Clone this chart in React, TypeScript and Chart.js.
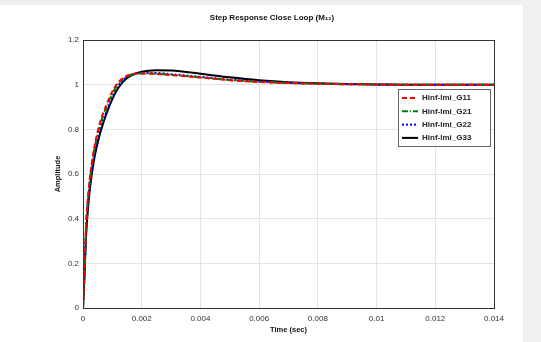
import React, { useEffect, useRef } from "react";
import { Chart, registerables } from "chart.js";

Chart.register(...registerables);

const timeValues = [0, 0.00005, 0.0001, 0.0002, 0.0003, 0.0004, 0.0005, 0.0006, 0.0008, 0.001, 0.0012, 0.0015, 0.002, 0.0025, 0.003, 0.004, 0.005, 0.006, 0.007, 0.008, 0.009, 0.01, 0.011, 0.012, 0.013, 0.014];
const g11Values = [0, 0.17, 0.36, 0.54, 0.65, 0.73, 0.79, 0.84, 0.91, 0.97, 1.01, 1.04, 1.05, 1.048, 1.043, 1.032, 1.02, 1.012, 1.007, 1.004, 1.002, 1.001, 1.0, 1.0, 1.0, 1.0];
const g21Values = [0, 0.16, 0.35, 0.53, 0.64, 0.72, 0.78, 0.83, 0.9, 0.96, 1.005, 1.037, 1.05, 1.049, 1.044, 1.033, 1.021, 1.013, 1.008, 1.004, 1.002, 1.001, 1.0, 1.0, 1.0, 1.0];
const g22Values = [0, 0.15, 0.33, 0.51, 0.62, 0.7, 0.76, 0.81, 0.88, 0.945, 0.995, 1.035, 1.052, 1.052, 1.047, 1.035, 1.023, 1.014, 1.008, 1.004, 1.002, 1.001, 1.0, 1.0, 1.0, 1.0];
const g33Values = [0, 0.14, 0.31, 0.49, 0.6, 0.68, 0.74, 0.79, 0.87, 0.935, 0.985, 1.03, 1.058, 1.065, 1.063, 1.049, 1.033, 1.02, 1.011, 1.006, 1.003, 1.001, 1.0, 1.0, 1.0, 1.0];
const seriesLabels = ["Hinf-lmi_G11", "Hinf-lmi_G21", "Hinf-lmi_G22", "Hinf-lmi_G33"];
const xTicks = [0, 0.002, 0.004, 0.006, 0.008, 0.01, 0.012, 0.014];
const yTicks = [0, 0.2, 0.4, 0.6, 0.8, 1, 1.2];
const titleText = "Step Response Close Loop (M\u2081\u2081)";
const xTitle = "Time (sec)";
const yTitle = "Amplitude";

const FONT = "'Liberation Sans', Arial, sans-serif";

export default function App() {
  const ref = useRef<HTMLCanvasElement>(null);
  useEffect(() => {
    document.body.style.margin = "0";
    const canvas = ref.current!;
    const styles = [
      { color: "#ff0000", dash: [5, 3] },
      { color: "#008000", dash: [6, 2, 1, 2] },
      { color: "#0000ff", dash: [2, 2] },
      { color: "#000000", dash: [] as number[] },
    ];
    const allValues = [g11Values, g21Values, g22Values, g33Values];
    const datasets = allValues.map((vals, i) => ({
      label: seriesLabels[i],
      data: timeValues.map((t, j) => ({ x: t, y: vals[j] })),
      borderColor: styles[i].color,
      backgroundColor: styles[i].color,
      borderDash: styles[i].dash,
      borderWidth: 2,
      pointRadius: 0,
      cubicInterpolationMode: "monotone" as const,
      fill: false,
    }));
    const bgPlugin = {
      id: "bg",
      beforeDraw(chart: any) {
        const ctx = chart.ctx;
        ctx.save();
        ctx.fillStyle = "#f0f0f0";
        ctx.fillRect(0, 0, chart.width, chart.height);
        ctx.fillStyle = "#ffffff";
        ctx.fillRect(0, 5, 523, chart.height - 5);
        ctx.restore();
      },
    };
    const boxLegendPlugin = {
      id: "boxLegend",
      afterDraw(chart: any) {
        const ctx = chart.ctx;
        const a = chart.chartArea;
        ctx.save();
        ctx.strokeStyle = "#333333";
        ctx.lineWidth = 1;
        ctx.setLineDash([]);
        ctx.strokeRect(Math.round(a.left) + 0.5, Math.round(a.top) + 0.5, Math.round(a.right - a.left), Math.round(a.bottom - a.top));
        const lx = 398, ly = 89, lw = 92, lh = 57;
        ctx.fillStyle = "#ffffff";
        ctx.fillRect(lx, ly, lw, lh);
        ctx.strokeStyle = "#666666";
        ctx.strokeRect(lx + 0.5, ly + 0.5, lw, lh);
        ctx.font = "bold 8px " + FONT;
        ctx.textBaseline = "middle";
        chart.data.datasets.forEach((ds: any, i: number) => {
          const y = ly + 9 + i * 13.3;
          ctx.beginPath();
          ctx.setLineDash(ds.borderDash || []);
          ctx.strokeStyle = ds.borderColor;
          ctx.lineWidth = 2;
          ctx.moveTo(lx + 4, y);
          ctx.lineTo(lx + 20, y);
          ctx.stroke();
          ctx.setLineDash([]);
          ctx.fillStyle = "#222222";
          ctx.fillText(ds.label, lx + 24, y);
        });
        ctx.restore();
      },
    };
    const chart = new Chart(canvas, {
      type: "line",
      data: { datasets },
      plugins: [bgPlugin, boxLegendPlugin],
      options: {
        animation: false,
        responsive: false,
        layout: { padding: { left: 50, right: 47, top: 0, bottom: 0 } },
        plugins: {
          legend: { display: false },
          tooltip: { enabled: false },
          title: {
            display: true,
            text: titleText,
            color: "#111111",
            font: { family: FONT, size: 8, weight: "bold", lineHeight: 1.2 },
            padding: { top: 13, bottom: 17.4 },
          },
        },
        scales: {
          x: {
            type: "linear",
            min: 0,
            max: 0.014,
            afterBuildTicks: (s: any) => {
              s.ticks = xTicks.map((v) => ({ value: v }));
            },
            afterFit: (s: any) => {
              s.height = 34;
            },
            ticks: {
              color: "#333333",
              font: { family: FONT, size: 8 },
              padding: 6,
              maxRotation: 0,
              autoSkip: false,
              callback: (v: any) => String(Number(v)),
            },
            grid: { color: "#e3e3e3", drawTicks: false, tickLength: 0 },
            border: { display: false },
            title: {
              display: true,
              text: xTitle,
              color: "#111111",
              font: { family: FONT, size: 7.5, weight: "bold" },
              padding: { top: 0, bottom: 8 },
            },
          },
          y: {
            type: "linear",
            min: 0,
            max: 1.2,
            afterBuildTicks: (s: any) => {
              s.ticks = yTicks.map((v) => ({ value: v }));
            },
            afterFit: (s: any) => {
              s.width = 33;
            },
            ticks: {
              color: "#333333",
              font: { family: FONT, size: 8 },
              padding: 4,
              autoSkip: false,
              callback: (v: any) => String(Number(v)),
            },
            grid: { color: "#e3e3e3", drawTicks: false, tickLength: 0 },
            border: { display: false },
            title: {
              display: true,
              text: yTitle,
              color: "#111111",
              font: { family: FONT, size: 7.5, weight: "bold" },
              padding: { top: 3, bottom: 0 },
            },
          },
        },
      },
    } as any);
    return () => chart.destroy();
  }, []);
  return (
    <div style={{ width: 541, height: 342 }}>
      <canvas ref={ref} width={541} height={342} style={{ display: "block" }} />
    </div>
  );
}
